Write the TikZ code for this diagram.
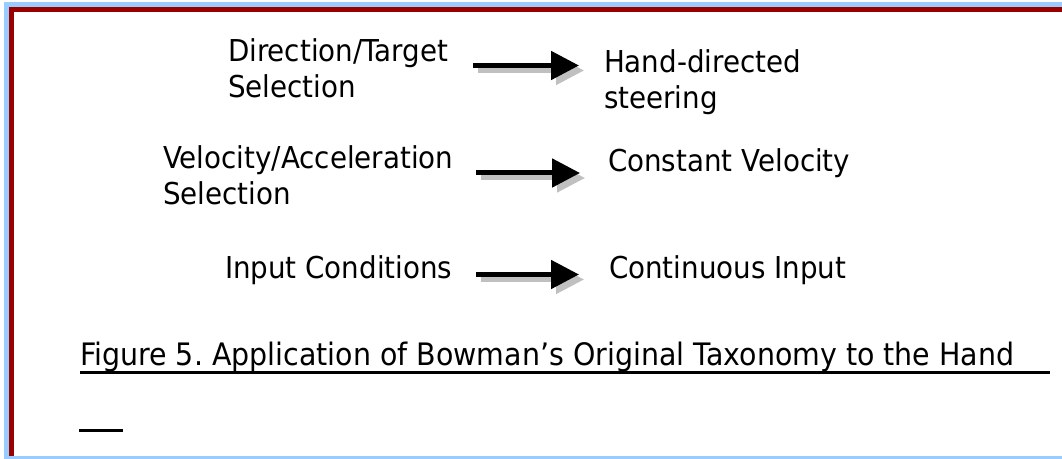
\documentclass[tikz,border=0pt]{standalone}
\usepackage{fontspec}
\setmainfont{DejaVu Sans}
\newfontfamily\reffont[FakeStretch=0.92]{DejaVu Sans}
\usetikzlibrary{arrows.meta}
\definecolor{frameblue}{RGB}{153,204,255}
\definecolor{framered}{RGB}{153,0,0}
\definecolor{shadowgray}{RGB}{192,192,192}
\tikzset{
  lbl/.style={inner sep=0pt, outer sep=0pt, anchor=base west, align=left,
    font=\reffont\fontsize{22.6}{27}\selectfont},
  caplbl/.style={inner sep=0pt, outer sep=0pt, anchor=base west,
    font=\frenchspacing\reffont\fontsize{23.2}{27}\selectfont},
  arrowline/.style={line width=3.75pt, -{Triangle[length=21pt,width=21pt]}},
  arrowshadow/.style={arrowline, draw=shadowgray},
  uline/.style={line width=2.25pt}
}
\begin{document}
\begin{tikzpicture}[x=0.75pt,y=-0.75pt]
\useasboundingbox (0,0) rectangle (1062,459);
% frames
\draw[frameblue, line width=3.75pt] (1070,5) -- (6,5) -- (6,458) -- (1070,458);
\draw[framered, line width=3.75pt] (1070,10) -- (11,10) -- (11,455.5);
% row 1 (base anchor = last line's baseline)
\node[lbl] (dir) at (228,98) {Direction/Target\\Selection};
\node[lbl] (hand) at (604,109) {Hand-directed\\steering};
\coordinate (a1s) at (473,65.5);
\coordinate (a1e) at (579,65.5);
\draw[arrowshadow] ([shift={(5,5)}]a1s) -- ([shift={(5,5)}]a1e);
\draw[arrowline] (a1s) -- (a1e);
% row 2
\node[lbl] (vel) at (163,205) {Velocity/Acceleration\\Selection};
\node[lbl] (const) at (608,172) {Constant Velocity};
\coordinate (a2s) at (476,173);
\coordinate (a2e) at (580,173);
\draw[arrowshadow] ([shift={(5,5)}]a2s) -- ([shift={(5,5)}]a2e);
\draw[arrowline] (a2s) -- (a2e);
% row 3
\node[lbl] (inp) at (225,278) {Input Conditions};
\node[lbl] (cont) at (609,278) {Continuous Input};
\coordinate (a3s) at (476,274.5);
\coordinate (a3e) at (579,274.5);
\draw[arrowshadow] ([shift={(5,5)}]a3s) -- ([shift={(5,5)}]a3e);
\draw[arrowline] (a3s) -- (a3e);
% caption
\node[caplbl] (cap) at (80,365) {Figure 5. Application of Bowman’s Original Taxonomy to the Hand};
\coordinate (u1s) at (80,372);
\coordinate (u1e) at (1050,372);
\draw[uline] (u1s) -- (u1e);
\coordinate (u2s) at (79,430.5);
\coordinate (u2e) at (123,430.5);
\draw[uline] (u2s) -- (u2e);
\end{tikzpicture}
\end{document}
